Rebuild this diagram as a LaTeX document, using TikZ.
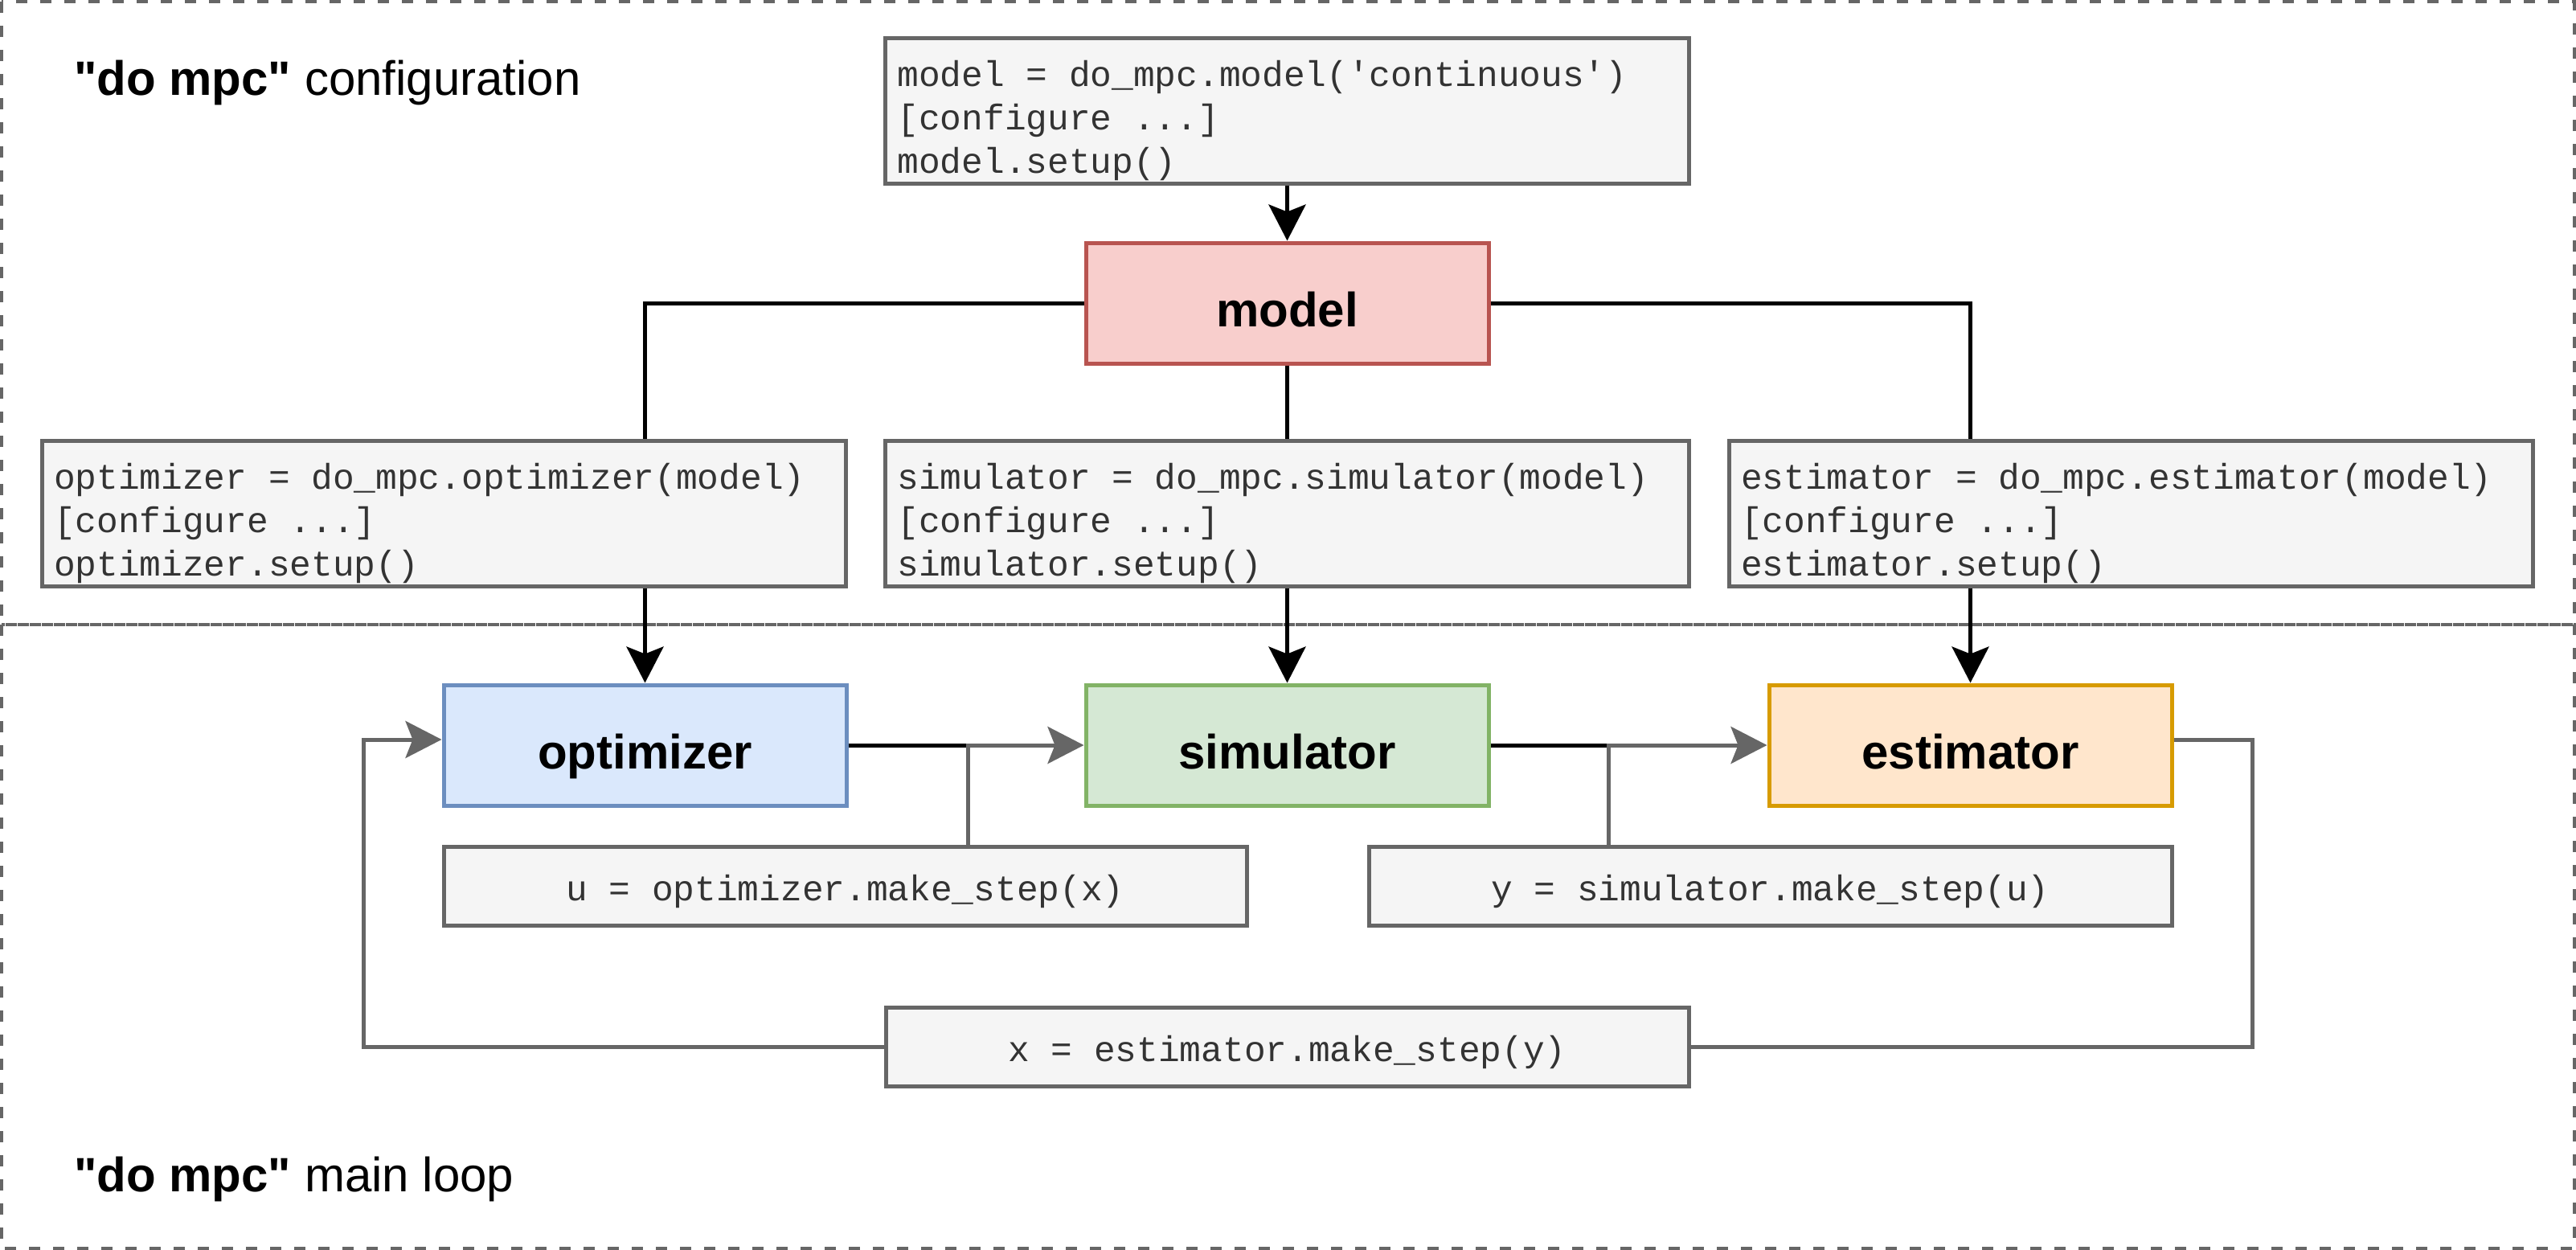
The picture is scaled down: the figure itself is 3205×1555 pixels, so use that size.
\documentclass[tikz,border=0pt]{standalone}
\usepackage{fontspec}
\setmainfont{Liberation Sans}
\newfontfamily\codefont[WordSpace={1,0,0}]{Liberation Mono}
\usetikzlibrary{arrows.meta}
\definecolor{boxgray}{HTML}{666666}
\definecolor{boxfill}{HTML}{F5F5F5}
\definecolor{codetext}{HTML}{333333}
\definecolor{redfill}{HTML}{F8CECC}
\definecolor{redline}{HTML}{B85450}
\definecolor{bluefill}{HTML}{DAE8FC}
\definecolor{blueline}{HTML}{6C8EBF}
\definecolor{greenfill}{HTML}{D5E8D4}
\definecolor{greenline}{HTML}{82B366}
\definecolor{orangefill}{HTML}{FFE6CC}
\definecolor{orangeline}{HTML}{D79B00}
\newcommand{\firstline}{\rule{0pt}{57pt}}
\begin{document}
\begin{tikzpicture}[x=1pt,y=-1pt,
  block/.style={draw, line width=5pt, minimum width=501pt, minimum height=150pt,
    font=\fontsize{60}{72}\selectfont\bfseries, inner sep=0pt,
    text height=64pt, text depth=5pt},
  codebox/.style={draw=boxgray, fill=boxfill, line width=5pt, text=codetext,
    font=\codefont\fontsize{44.5}{54}\selectfont, align=flush left, text width=970pt,
    inner xsep=15pt, minimum height=174pt},
  stepbox/.style={draw=boxgray, fill=boxfill, line width=5pt, text=codetext,
    font=\codefont\fontsize{44.5}{54}\selectfont, minimum width=999pt,
    minimum height=98pt, inner sep=0pt, text height=36pt, text depth=0pt},
  conn/.style={line width=5pt, black},
  arr/.style={conn, -{Stealth[length=45pt,width=46pt,inset=9pt]}},
  gconn/.style={line width=5pt, boxgray},
  garr/.style={gconn, -{Stealth[length=45pt,width=46pt,inset=9pt]}},
  region/.style={draw=boxgray, line width=4pt, dash pattern=on 14pt off 16pt},
  title/.style={anchor=base west, font=\fontsize{60}{72}\selectfont, inner sep=0pt}
]
\useasboundingbox (0,0) rectangle (3205,1555);

% regions
\draw[region] (2,2) rectangle (3203,777);
\draw[region] (2,777) rectangle (3203,1553);
\node[title] (cfgtitle) at (92,118) {\textbf{\textquotedbl do mpc\textquotedbl} configuration};
\node[title] (looptitle) at (92,1482) {\textbf{\textquotedbl do mpc\textquotedbl} main loop};

% configuration code
\node[codebox] (modelcode) at (1601.5,138) {\firstline model = do\_mpc.model(\char"27\relax continuous\char"27\relax)\\ {[}configure ...{]}\\ model.setup()};
\node[block, fill=redfill, draw=redline] (model) at (1601.5,377) {model};
\node[codebox] (optcode) at (552,639) {\firstline optimizer = do\_mpc.optimizer(model)\\ {[}configure ...{]}\\ optimizer.setup()};
\node[codebox] (simcode) at (1601.5,639) {\firstline simulator = do\_mpc.simulator(model)\\ {[}configure ...{]}\\ simulator.setup()};
\node[codebox] (estcode) at (2651,639) {\firstline estimator = do\_mpc.estimator(model)\\ {[}configure ...{]}\\ estimator.setup()};

% main loop blocks
\node[block, fill=bluefill, draw=blueline] (opt) at (802.5,927) {optimizer};
\node[block, fill=greenfill, draw=greenline] (sim) at (1601.5,927) {simulator};
\node[block, fill=orangefill, draw=orangeline] (est) at (2451.5,927) {estimator};

\node[stepbox] (ubox) at (1051.5,1102) {u = optimizer.make\_step(x)};
\node[stepbox] (ybox) at (2202.5,1102) {y = simulator.make\_step(u)};
\node[stepbox] (xbox) at (1601.5,1302) {x = estimator.make\_step(y)};

% configuration connectors
\draw[arr] (modelcode.south) -- (model.north);
\draw[conn] (model.west) -| (opt.north |- optcode.north);
\draw[conn] (model.east) -| (est.north |- estcode.north);
\draw[conn] (model.south) -- (simcode.north);
\draw[arr] (optcode.south -| opt.north) -- (opt.north);
\draw[arr] (simcode.south) -- (sim.north);
\draw[arr] (estcode.south -| est.north) -- (est.north);

% main loop connectors
\coordinate (j1) at (1204,927);
\coordinate (j2) at (2001,927);
\draw[conn] (opt.east) -- (j1);
\draw[garr] (ubox.north -| j1) -- (j1) -- (sim.west);
\draw[conn] (sim.east) -- (j2);
\draw[garr] (ybox.north -| j2) -- (j2) -- (est.west);

\coordinate (lr) at (2802,920);
\coordinate (ll) at (452,920);
\draw[gconn] ([yshift=7pt]est.east) -- (lr) |- (xbox.east);
\draw[garr] (xbox.west) -| (ll) -- ([yshift=7pt]opt.west);
\end{tikzpicture}
\end{document}
